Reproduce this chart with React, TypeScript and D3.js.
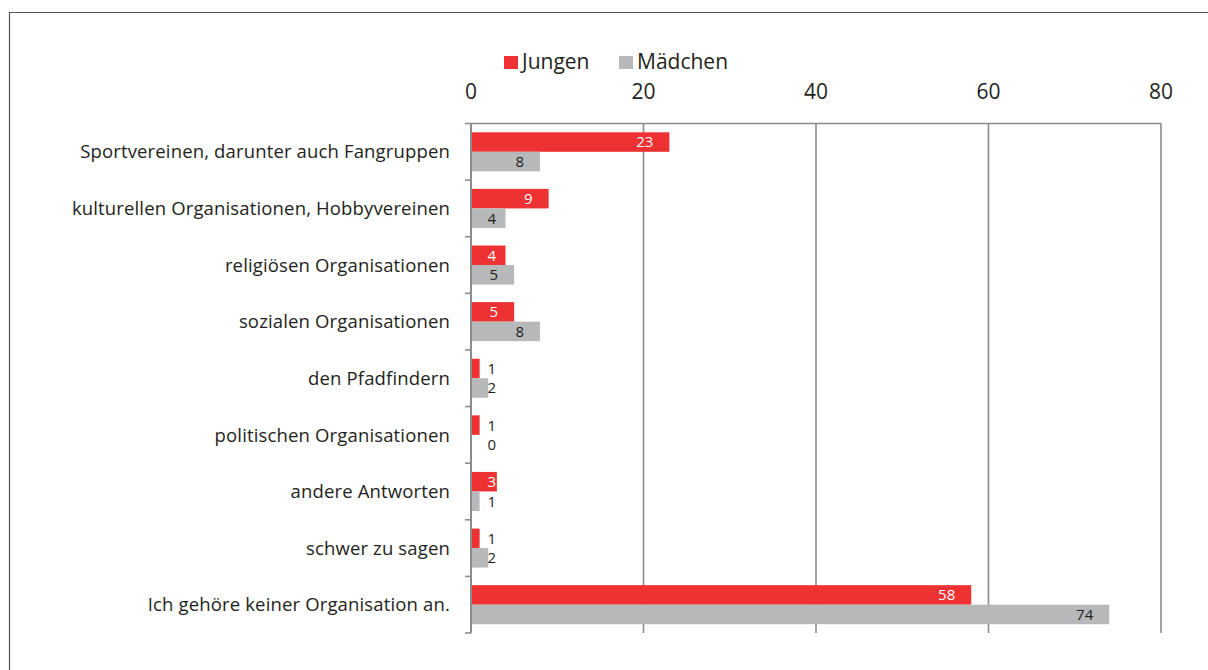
import React from "react";
import * as d3 from "d3";

const categories = [
  "Sportvereinen, darunter auch Fangruppen",
  "kulturellen Organisationen, Hobbyvereinen",
  "religiösen Organisationen",
  "sozialen Organisationen",
  "den Pfadfindern",
  "politischen Organisationen",
  "andere Antworten",
  "schwer zu sagen",
  "Ich gehöre keiner Organisation an.",
];
const jungen = [23, 9, 4, 5, 1, 1, 3, 1, 58];
const maedchen = [8, 4, 5, 8, 2, 0, 1, 2, 74];
const xTicks = [0, 20, 40, 60, 80];

const series = [
  { key: "Jungen", values: jungen, color: "#ee3133", labelColor: "#ffffff" },
  { key: "Mädchen", values: maedchen, color: "#b6b8ba", labelColor: "#231f20" },
];

const FONT = "'Open Sans', sans-serif";
const GRID = "#8c8c8e";

export default function App() {
  const width = 1208;
  const height = 670;
  const left = 471;
  const right = 1161;
  const top = 123.5;
  const bottom = 633;

  const x = d3.scaleLinear().domain([0, 80]).range([left, right]);
  const y = d3.scaleBand<string>().domain(categories).range([top, bottom]);
  const sub = d3
    .scaleBand<string>()
    .domain(series.map((s) => s.key))
    .range([0, y.bandwidth()])
    .paddingOuter(0.45);

  const minLabelEnd = x(0) + 25;

  return (
    <svg
      width={width}
      height={height}
      style={{ position: "absolute", left: 0, top: 0, background: "#fff" }}
      fontFamily={FONT}
    >
      {/* frame */}
      <path d={`M9.5,${height} V12.5 H${width}`} fill="none" stroke="#555" strokeWidth={1.2} />

      {/* legend */}
      <g fontSize={21} fill="#231f20">
        <rect x={504} y={56} width={14} height={13} fill={series[0].color} />
        <text x={522} y={69}>Jungen</text>
        <rect x={619} y={56} width={14} height={13} fill={series[1].color} />
        <text x={637} y={69}>Mädchen</text>
      </g>

      {/* gridlines + tick labels */}
      {xTicks.map((t) => (
        <g key={t}>
          {t > 0 && (
            <line x1={x(t)} x2={x(t)} y1={top} y2={bottom} stroke={GRID} strokeWidth={1.6} />
          )}
          <text x={x(t)} y={99} textAnchor="middle" fontSize={21} fill="#231f20">
            {t}
          </text>
        </g>
      ))}
      <line x1={left} x2={right} y1={top} y2={top} stroke={GRID} strokeWidth={1.6} />

      {/* bars */}
      {categories.map((c, i) => (
        <g key={c}>
          {series.map((s) => {
            const v = s.values[i];
            const by = (y(c) as number) + (sub(s.key) as number);
            const bh = sub.bandwidth();
            const labelEnd = Math.max(x(v) - 16, minLabelEnd);
            const inside = x(v) >= labelEnd;
            return (
              <g key={s.key}>
                {v > 0 && (
                  <rect x={x(0)} y={by} width={x(v) - x(0)} height={bh} fill={s.color} />
                )}
                <text
                  x={labelEnd}
                  y={by + bh / 2}
                  dy="0.36em"
                  textAnchor="end"
                  fontSize={15}
                  fill={inside ? s.labelColor : "#231f20"}
                >
                  {v}
                </text>
              </g>
            );
          })}
        </g>
      ))}

      {/* y axis */}
      <line x1={left} x2={left} y1={top} y2={bottom} stroke={GRID} strokeWidth={2} />
      {[...categories.map((c) => y(c) as number), bottom].map((ty, i) => (
        <line key={i} x1={left - 6} x2={left} y1={ty} y2={ty} stroke={GRID} strokeWidth={1.6} />
      ))}
      {categories.map((c) => (
        <text
          key={c}
          x={450}
          y={(y(c) as number) + y.bandwidth() / 2}
          dy="0.36em"
          textAnchor="end"
          fontSize={18.5}
          letterSpacing={0.15}
          fill="#231f20"
        >
          {c}
        </text>
      ))}
    </svg>
  );
}
